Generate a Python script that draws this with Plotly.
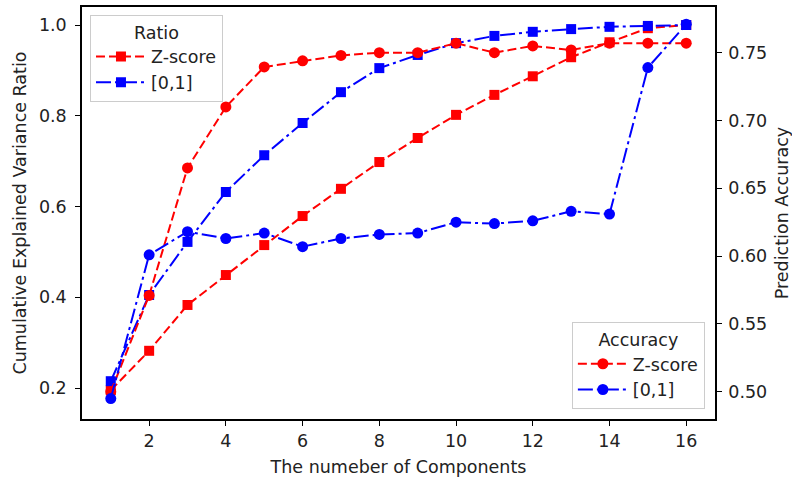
import plotly.graph_objects as go

components = list(range(1, 17))
ratio_zscore = [0.195, 0.282, 0.383, 0.449, 0.515, 0.579, 0.639, 0.698, 0.751, 0.802, 0.846, 0.887, 0.929, 0.962, 0.993, 1.0]
ratio_minmax = [0.215, 0.405, 0.522, 0.632, 0.713, 0.784, 0.852, 0.905, 0.934, 0.960, 0.976, 0.985, 0.991, 0.996, 0.998, 1.0]
acc_zscore = [0.500, 0.571, 0.665, 0.710, 0.7395, 0.744, 0.748, 0.750, 0.750, 0.757, 0.750, 0.755, 0.752, 0.757, 0.757, 0.757]
acc_minmax = [0.495, 0.601, 0.618, 0.613, 0.617, 0.607, 0.613, 0.616, 0.617, 0.625, 0.624, 0.626, 0.633, 0.631, 0.739, 0.771]

FONT = "DejaVu Sans"
FS = 17.5
DASH = "9px,4px"
DASHDOT = "15px,4px,3px,4px"

fig = go.Figure()
fig.add_trace(go.Scatter(x=components, y=ratio_zscore, name="Z-score", mode="lines+markers",
                         line=dict(color="red", width=2, dash=DASH),
                         marker=dict(symbol="square", size=10, color="red"),
                         legend="legend"))
fig.add_trace(go.Scatter(x=components, y=ratio_minmax, name="[0,1]", mode="lines+markers",
                         line=dict(color="blue", width=2, dash=DASHDOT),
                         marker=dict(symbol="square", size=10, color="blue"),
                         legend="legend"))
fig.add_trace(go.Scatter(x=components, y=acc_zscore, name="Z-score", mode="lines+markers",
                         line=dict(color="red", width=2, dash=DASH),
                         marker=dict(symbol="circle", size=11, color="red"),
                         yaxis="y2", legend="legend2"))
fig.add_trace(go.Scatter(x=components, y=acc_minmax, name="[0,1]", mode="lines+markers",
                         line=dict(color="blue", width=2, dash=DASHDOT),
                         marker=dict(symbol="circle", size=11, color="blue"),
                         yaxis="y2", legend="legend2"))

axis_common = dict(showgrid=False, zeroline=False, showline=True, linecolor="black", linewidth=1.5,
                   ticks="outside", ticklen=5, tickwidth=1.2, tickcolor="black", automargin=False,
                   tickfont=dict(family=FONT, size=FS, color="#222"))

legend_common = dict(bgcolor="rgba(255,255,255,0.85)", bordercolor="#cccccc", borderwidth=1,
                     font=dict(family=FONT, size=FS, color="#222"), tracegroupgap=0,
                     itemwidth=50)

fig.update_layout(
    width=792, height=478,
    margin=dict(l=82, r=77, t=7, b=59, autoexpand=False),
    plot_bgcolor="white", paper_bgcolor="white",
    font=dict(family=FONT, size=FS, color="#222"),
    xaxis=dict(range=[0.25, 16.75], tickvals=[2, 4, 6, 8, 10, 12, 14, 16], mirror=True,
               title=dict(text="The numeber of Components", font=dict(family=FONT, size=FS), standoff=11),
               **axis_common),
    yaxis=dict(range=[0.1317, 1.0397], tickvals=[0.2, 0.4, 0.6, 0.8, 1.0], tickformat=".1f",
               ticklabelstandoff=5,
               title=dict(text="Cumulative Explained Variance Ratio", font=dict(family=FONT, size=FS), standoff=8),
               **axis_common),
    yaxis2=dict(range=[0.4799, 0.7837], tickvals=[0.50, 0.55, 0.60, 0.65, 0.70, 0.75], tickformat=".2f",
                overlaying="y", side="right", ticklabelstandoff=3,
                title=dict(text="Prediction Accuracy", font=dict(family=FONT, size=FS), standoff=10),
                **axis_common),
    legend=dict(x=0.0126, y=0.981, xanchor="left", yanchor="top",
                title=dict(text="Ratio", side="top center", font=dict(family=FONT, size=FS)),
                **legend_common),
    legend2=dict(x=0.984, y=0.024, xanchor="right", yanchor="bottom",
                 title=dict(text="Accuracy", side="top center", font=dict(family=FONT, size=FS)),
                 **legend_common),
)

fig.write_html("out.html")
